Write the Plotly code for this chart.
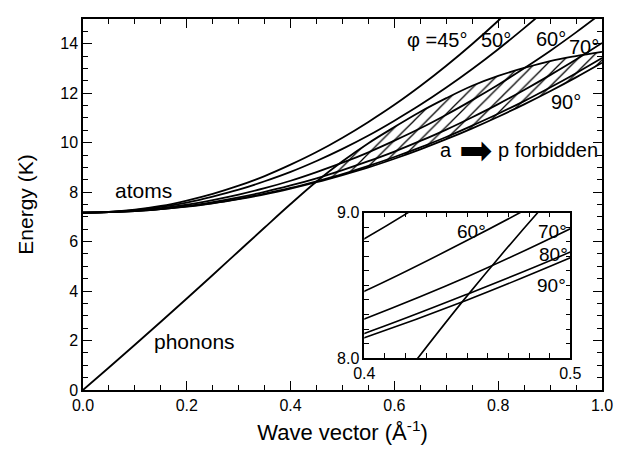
import plotly.graph_objects as go

# ---- data ----
k = [0.00, 0.05, 0.10, 0.15, 0.20, 0.25, 0.30, 0.35, 0.40, 0.45, 0.50,
     0.55, 0.60, 0.65, 0.70, 0.75, 0.80, 0.85, 0.90, 0.95, 1.00]

atoms_45 = [7.17, 7.20, 7.29, 7.44, 7.66, 7.93, 8.26, 8.65, 9.11, 9.62, 10.20,
            10.84, 11.53, 12.29, 13.11, 13.99, 14.93, 15.93, 16.99, 18.11, 19.29]
atoms_50 = [7.17, 7.20, 7.27, 7.40, 7.58, 7.82, 8.10, 8.44, 8.82, 9.26, 9.75,
            10.29, 10.89, 11.53, 12.23, 12.98, 13.78, 14.63, 15.53, 16.49, 17.50]
atoms_60 = [7.17, 7.19, 7.25, 7.35, 7.49, 7.68, 7.90, 8.16, 8.46, 8.81, 9.19,
            9.61, 10.08, 10.58, 11.13, 11.72, 12.34, 13.01, 13.71, 14.46, 15.25]
atoms_70 = [7.17, 7.19, 7.24, 7.32, 7.44, 7.60, 7.79, 8.01, 8.27, 8.56, 8.89,
            9.25, 9.64, 10.07, 10.53, 11.03, 11.56, 12.13, 12.73, 13.36, 14.03]
atoms_80 = [7.17, 7.19, 7.23, 7.31, 7.42, 7.56, 7.73, 7.94, 8.17, 8.44, 8.73,
            9.06, 9.42, 9.81, 10.23, 10.69, 11.17, 11.68, 12.23, 12.81, 13.42]
atoms_90 = [7.17, 7.19, 7.23, 7.31, 7.41, 7.55, 7.72, 7.91, 8.14, 8.40, 8.69,
            9.00, 9.35, 9.73, 10.14, 10.58, 11.05, 11.55, 12.08, 12.64, 13.23]
phonons = [0.00, 0.91, 1.83, 2.76, 3.70, 4.65, 5.61, 6.57, 7.52, 8.43, 9.25,
           9.98, 10.63, 11.25, 11.80, 12.30, 12.70, 13.02, 13.30, 13.50, 13.67]

atom_curves = [atoms_45, atoms_50, atoms_60, atoms_70, atoms_80, atoms_90]
forbidden_start = 0.45  # hatched region (phonon above 90-degree atom curve)

x_ticks = [0.0, 0.2, 0.4, 0.6, 0.8, 1.0]
y_ticks = [0, 2, 4, 6, 8, 10, 12, 14]

FONT = "Liberation Sans, Arial, DejaVu Sans, sans-serif"
LW = 1.8

fig = go.Figure()

# hatched forbidden region
sel = [i for i, kk in enumerate(k) if kk >= forbidden_start]
fig.add_trace(go.Scatter(
    x=[k[i] for i in sel], y=[atoms_90[i] for i in sel],
    mode="lines", line=dict(width=0, shape="spline"), showlegend=False,
    hoverinfo="skip"))
fig.add_trace(go.Scatter(
    x=[k[i] for i in sel], y=[phonons[i] for i in sel],
    mode="lines", line=dict(width=0, shape="spline"), showlegend=False,
    fill="tonexty", fillcolor="rgba(0,0,0,0)",
    fillpattern=dict(shape="/", size=9, solidity=0.14,
                     fgcolor="black", fgopacity=1,
                     bgcolor="rgba(255,255,255,0)",
                     fillmode="overlay"),
    hoverinfo="skip"))

# main curves
for yv in atom_curves + [phonons]:
    fig.add_trace(go.Scatter(x=k, y=yv, mode="lines",
                             line=dict(color="black", width=LW, shape="spline"),
                             showlegend=False))
# inset curves
for yv in atom_curves + [phonons]:
    fig.add_trace(go.Scatter(x=k, y=yv, mode="lines", xaxis="x2", yaxis="y2",
                             line=dict(color="black", width=1.6, shape="spline"),
                             showlegend=False))

axis_common = dict(showline=True, linecolor="black", linewidth=1.5,
                   mirror="allticks", ticks="inside", tickcolor="black",
                   showgrid=False, zeroline=False,
                   tickfont=dict(family=FONT, size=16, color="black"))

fig.update_layout(
    width=624, height=452,
    margin=dict(l=83, r=15, t=11, b=56),
    paper_bgcolor="white", plot_bgcolor="white",
    font=dict(family=FONT, color="black"),
    xaxis=dict(range=[0, 1], tickvals=x_ticks, tickformat=".1f",
               ticklen=9, tickwidth=1.2,
               minor=dict(dtick=0.05, ticks="inside", ticklen=5,
                          tickcolor="black", tickwidth=1),
               title=dict(text="Wave vector (Å<sup>-1</sup>)",
                          font=dict(family=FONT, size=22), standoff=12),
               **axis_common),
    yaxis=dict(range=[0, 15], tickvals=y_ticks,
               ticklen=9, tickwidth=1.2,
               minor=dict(dtick=0.5, ticks="inside", ticklen=5,
                          tickcolor="black", tickwidth=1),
               title=dict(text="Energy (K)",
                          font=dict(family=FONT, size=21), standoff=21),
               **axis_common),
    xaxis2=dict(domain=[0.542, 0.939], anchor="y2", range=[0.4, 0.5],
                tickvals=[0.4, 0.5], tickformat=".1f", ticklen=5,
                minor=dict(dtick=0.01, tick0=0.4, ticks="inside", ticklen=5,
                           tickcolor="black", tickwidth=1),
                **axis_common),
    yaxis2=dict(domain=[0.0857, 0.478], anchor="x2", range=[8.0, 9.0],
                tickvals=[8.0, 9.0], tickformat=".1f", ticklen=5,
                minor=dict(dtick=0.1, tick0=8.0, ticks="inside", ticklen=5,
                           tickcolor="black", tickwidth=1),
                **axis_common),
)

# inset background
fig.add_shape(type="rect", xref="x2 domain", yref="y2 domain",
              x0=0, x1=1, y0=0, y1=1, fillcolor="white",
              line=dict(width=0), layer="below")

def ann(text, x, y, xref="x", yref="y", size=20, xanchor="center", family=FONT):
    fig.add_annotation(text=text, x=x, y=y, xref=xref, yref=yref,
                       showarrow=False, xanchor=xanchor, yanchor="middle",
                       font=dict(family=family, size=size, color="black"))

ann("atoms", 0.116, 8.05, size=21)
ann("phonons", 0.215, 1.95, size=21)
ann("φ =45°", 0.683, 14.14)
ann("50°", 0.795, 14.14)
ann("60°", 0.901, 14.18)
ann("70°", 0.966, 13.85)
ann("90°", 0.930, 11.65)
ann("a", 0.700, 9.70)
ann("➡", 0.757, 9.72, size=40, family="DejaVu Sans")
ann("p forbidden", 0.795, 9.70, xanchor="left")

ann("60°", 0.4522, 8.868, "x2", "y2", size=19)
ann("70°", 0.4914, 8.868, "x2", "y2", size=19)
ann("80°", 0.4918, 8.715, "x2", "y2", size=19)
ann("90°", 0.4908, 8.503, "x2", "y2", size=19)

fig.write_html("out.html",
               config=dict(displayModeBar=False),
               post_script="document.body.style.margin='0px';")
